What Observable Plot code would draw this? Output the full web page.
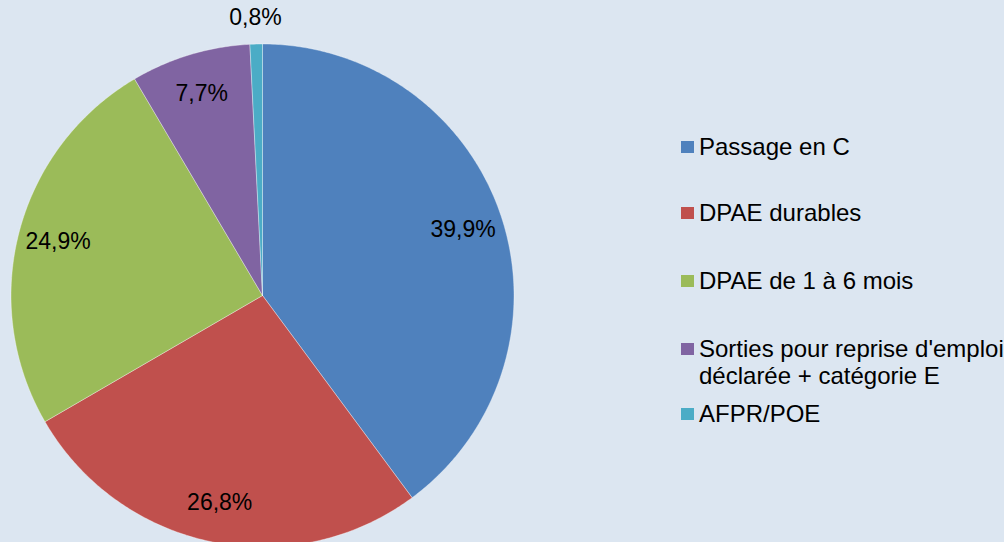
<!DOCTYPE html>
<html><head><meta charset="utf-8">
<script src="https://cdn.jsdelivr.net/npm/d3@7"></script>
<script src="https://cdn.jsdelivr.net/npm/@observablehq/plot@0.6"></script>
<style>
html,body{margin:0;padding:0;background:#DCE6F1;}
#wrap{position:relative;width:1004px;height:542px;overflow:hidden;font-family:"Liberation Sans",Arial,sans-serif;background:#DCE6F1;}
#chart svg{display:block;background:#DCE6F1;}
#legend{position:absolute;left:681px;top:0;width:330px;}
.item{position:absolute;left:0;display:flex;align-items:flex-start;font-size:24px;line-height:27px;color:#000;white-space:nowrap;}
.sw{width:13px;height:12px;margin-top:8px;margin-right:5px;flex:none;}
</style>
</head><body>
<div id="wrap"><div id="chart"></div><div id="legend"></div></div>
<script>
const categories = ["Passage en C","DPAE durables","DPAE de 1 à 6 mois","Sorties pour reprise d'emploi déclarée + catégorie E","AFPR/POE"];
const legendLines = [["Passage en C"],["DPAE durables"],["DPAE de 1 à 6 mois"],["Sorties pour reprise d'emploi","déclarée + catégorie E"],["AFPR/POE"]];
const values = [39.9, 26.8, 24.9, 7.7, 0.8];
const labels = ["39,9%","26,8%","24,9%","7,7%","0,8%"];
const colors = ["#4F81BD","#C0504D","#9BBB59","#8064A2","#4BACC6"];

const cx = 262, cy = 295, R = 251.5;
const arcs = d3.pie().sort(null)(values);

// slice polygons (unit-circle space)
const poly = [];
arcs.forEach((a, i) => {
  const cat = categories[i];
  poly.push({cat, x: 0, y: 0});
  const n = Math.max(4, Math.ceil((a.endAngle - a.startAngle) / 0.01));
  for (let k = 0; k <= n; k++) {
    const t = a.startAngle + (a.endAngle - a.startAngle) * k / n;
    poly.push({cat, x: Math.sin(t), y: Math.cos(t)});
  }
  poly.push({cat, x: 0, y: 0});
});

// labels
const lab = arcs.map((a, i) => {
  const m = (a.startAngle + a.endAngle) / 2;
  const small = values[i] < 2;
  const f = small ? 1.105 : 0.84;
  return {text: labels[i], x: f * Math.sin(m), y: f * Math.cos(m)};
});

const plot = Plot.plot({
  width: 1004, height: 542,
  margin: 0,
  style: {background: "#DCE6F1", fontFamily: "'Liberation Sans', Arial, sans-serif"},
  x: {domain: [-1, 1], range: [cx - R, cx + R], axis: null},
  y: {domain: [-1, 1], range: [cy + R, cy - R], axis: null},
  color: {domain: categories, range: colors},
  marks: [
    Plot.line(poly, {x: "x", y: "y", z: "cat", fill: "cat", stroke: "#ffffff", strokeWidth: 0.5, strokeOpacity: 0.7, curve: "linear"}),
    Plot.text(lab, {x: "x", y: "y", text: "text", fontSize: 23, fill: "#000"})
  ]
});
document.getElementById("chart").appendChild(plot);

// legend
const tops = [133, 199, 267, 335, 400];
const leg = document.getElementById("legend");
categories.forEach((c, i) => {
  const it = document.createElement("div");
  it.className = "item";
  it.style.top = tops[i] + "px";
  const sw = document.createElement("div");
  sw.className = "sw";
  sw.style.background = colors[i];
  const tx = document.createElement("div");
  tx.innerHTML = legendLines[i].map(s => s.replace(/&/g,"&amp;")).join("<br>");
  it.appendChild(sw); it.appendChild(tx);
  leg.appendChild(it);
});
</script>
</body></html>
